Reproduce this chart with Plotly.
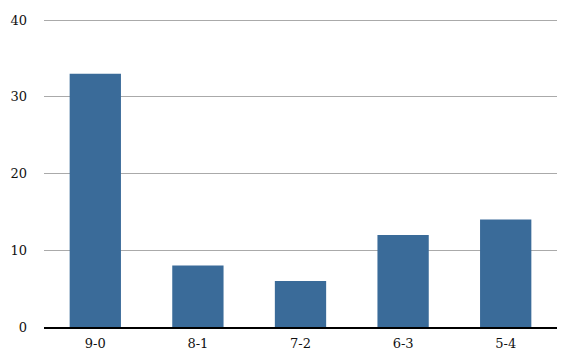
import plotly.graph_objects as go

categories = ["9-0", "8-1", "7-2", "6-3", "5-4"]
values = [33, 8, 6, 12, 14]
y_ticks = [0, 10, 20, 30, 40]

fig = go.Figure(go.Bar(x=categories, y=values, marker=dict(color="#3a6b99", line=dict(width=0))))

fig.update_layout(
    width=580, height=359,
    margin=dict(l=44, r=23, t=17, b=32),
    plot_bgcolor="white", paper_bgcolor="white",
    bargap=0.5,
    showlegend=False,
    font=dict(family="Georgia, 'DejaVu Serif', serif", size=13, color="#111"),
)
fig.update_xaxes(showgrid=False, showline=True, linecolor="black", linewidth=1.5,
                 ticks="", tickfont=dict(size=13), automargin=False, ticklabelstandoff=4)
fig.update_yaxes(range=[0, 40.4], tickvals=y_ticks, showgrid=True, gridcolor="#aaaaaa",
                 gridwidth=1, zeroline=False, showline=False, ticks="",
                 ticklabelstandoff=16, tickfont=dict(size=13), automargin=False)

fig.write_html("out.html", config={"displayModeBar": False},
               post_script="document.body.style.margin='0';document.body.style.overflow='hidden';")
